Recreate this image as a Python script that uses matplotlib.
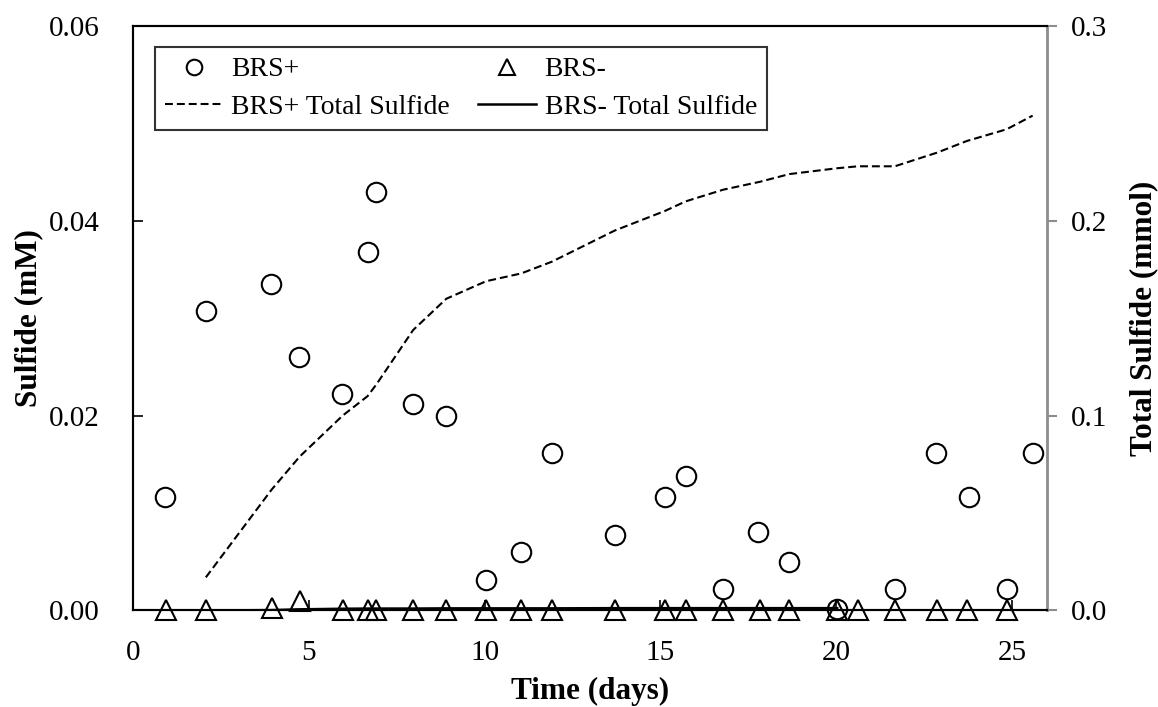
import numpy as np
import matplotlib
matplotlib.use("Agg")
import matplotlib.pyplot as plt
from matplotlib.ticker import FormatStrFormatter, MultipleLocator

plt.rcParams['font.family'] = ['Liberation Serif', 'DejaVu Serif']
plt.rcParams['font.size'] = 21

# ---- sulfide concentrations (mM) ----
t_pos = [0.91, 2.07, 3.91, 4.71, 5.93, 6.67, 6.92, 7.97, 8.91, 10.04, 11.04, 11.91,
         13.70, 15.12, 15.72, 16.79, 17.79, 18.67, 20.03, 21.67, 22.84, 23.77, 24.85, 25.59]
sulfide_pos = [0.0116, 0.0307, 0.0335, 0.0260, 0.0222, 0.0368, 0.0430, 0.0212, 0.0200,
               0.0031, 0.0060, 0.0162, 0.0078, 0.0116, 0.0138, 0.0022, 0.0081, 0.0050,
               0.0002, 0.0022, 0.0162, 0.0116, 0.0022, 0.0162]

t_neg = [0.94, 2.07, 3.94, 4.74, 5.96, 6.67, 6.92, 7.97, 8.91, 10.04, 11.04, 11.91,
         13.70, 15.12, 15.72, 16.79, 17.82, 18.67, 20.03, 20.62, 21.67, 22.87, 23.72, 24.85]
sulfide_neg = [0.0, 0.0, 0.0003, 0.0010, 0.0, 0.0, 0.0, 0.0, 0.0, 0.0, 0.0, 0.0,
               0.0, 0.0, 0.0, 0.0, 0.0, 0.0, 0.0, 0.0, 0.0, 0.0, 0.0, 0.0]

# ---- cumulative total sulfide (mmol) ----
t_total_pos = [2.07, 3.94, 4.74, 5.96, 6.67, 6.92, 7.97, 8.91, 10.04, 11.04, 11.91, 13.70,
               15.12, 15.72, 16.79, 17.82, 18.67, 20.03, 20.62, 21.67, 22.87, 23.72, 24.85, 25.59]
total_pos = [0.017, 0.062, 0.079, 0.100, 0.110, 0.116, 0.144, 0.160, 0.169, 0.173, 0.179, 0.195,
             0.205, 0.210, 0.216, 0.220, 0.224, 0.227, 0.228, 0.228, 0.235, 0.241, 0.247, 0.254]

t_total_neg = [0.94, 2.07, 3.94, 4.74, 5.96, 6.67, 6.92, 7.97, 8.91, 10.04, 11.04, 11.91,
               13.70, 15.12, 15.72, 16.79, 17.82, 18.67, 20.03]
total_neg = [0.0, 0.0, 0.0002, 0.0006, 0.0009, 0.0010, 0.0010, 0.0010, 0.0011, 0.0011, 0.0011,
             0.0011, 0.0012, 0.0012, 0.0012, 0.0012, 0.0012, 0.0012, 0.0012]

fig = plt.figure(figsize=(11.58, 7.07), dpi=100)
ax = fig.add_axes([0.1149, 0.1365, 0.7893, 0.8267])
ax2 = ax.twinx()

# total sulfide curves on the right axis
l1, = ax2.plot(t_total_pos, total_pos, color='black', lw=1.5, linestyle=(0, (3.8, 1.9)),
               label='BRS+ Total Sulfide')
l2, = ax2.plot(t_total_neg, total_neg, color='black', lw=1.8, label='BRS- Total Sulfide')

# measured concentrations on the left axis
ax.set_zorder(ax2.get_zorder() + 1)
ax.patch.set_visible(False)
m1, = ax.plot(t_pos, sulfide_pos, 'o', ms=14, mfc='none', mec='black', mew=1.5, label='BRS+',
              clip_on=False)
m2, = ax.plot(t_neg, sulfide_neg, '^', ms=14, mfc='none', mec='black', mew=1.5, label='BRS-',
              clip_on=False)

ax.set_xlim(0, 26)
ax.set_ylim(0, 0.06)
ax2.set_ylim(0, 0.3)
ax.xaxis.set_major_locator(MultipleLocator(5))
ax.yaxis.set_major_locator(MultipleLocator(0.02))
ax2.yaxis.set_major_locator(MultipleLocator(0.1))
ax.yaxis.set_major_formatter(FormatStrFormatter('%.2f'))
ax2.yaxis.set_major_formatter(FormatStrFormatter('%.1f'))

ax.tick_params(axis='both', direction='in', length=7, width=1.2)
ax.tick_params(axis='x', pad=21)
ax.tick_params(axis='y', pad=24)
ax2.tick_params(axis='y', direction='out', length=7, width=1.5, color='#8c8c8c', pad=10)

for s in ['left', 'bottom', 'top']:
    ax.spines[s].set_linewidth(1.5)
    ax2.spines[s].set_linewidth(1.5)
ax.spines['right'].set_visible(False)
ax2.spines['right'].set_color('#8c8c8c')
ax2.spines['right'].set_linewidth(2)

ax.set_xlabel('Time (days)', fontweight='bold', fontsize=22.5, labelpad=8)
ax.set_ylabel('Sulfide (mM)', fontweight='bold', fontsize=22.5, labelpad=4)
ax2.set_ylabel('Total Sulfide (mmol)', fontweight='bold', fontsize=22.5, labelpad=16)

leg = ax.legend([m1, l1, m2, l2], ['BRS+', 'BRS+ Total Sulfide', 'BRS-', 'BRS- Total Sulfide'],
                ncol=2, loc='upper left', bbox_to_anchor=(0.024, 0.964), borderaxespad=0,
                frameon=True, fancybox=False, edgecolor='black', fontsize=20,
                handlelength=2.1, handletextpad=0.3, columnspacing=1.0, labelspacing=0.45,
                borderpad=0.35, markerscale=0.8)
leg.get_frame().set_linewidth(1.5)

fig.savefig('out.png', dpi=100)
